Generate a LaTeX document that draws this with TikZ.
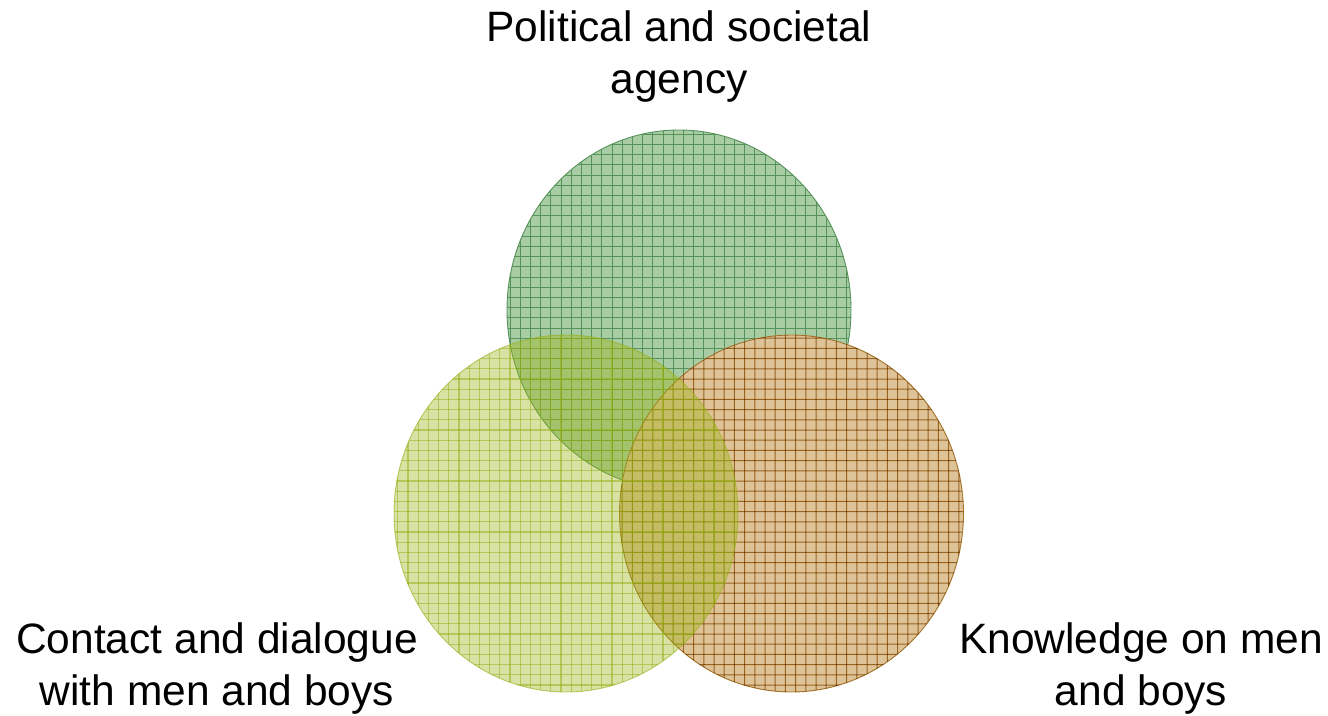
\documentclass[tikz,border=0pt]{standalone}
\usepackage{fontspec}
\setmainfont{Liberation Sans}
\definecolor{topfill}{HTML}{A8CCA4}
\definecolor{topline}{HTML}{55935A}
\definecolor{rightfill}{HTML}{DEC398}
\definecolor{rightline}{HTML}{B08336}
\definecolor{leftfill}{HTML}{9DB518}
\definecolor{leftline}{HTML}{94AE10}
\tikzset{
  lbl/.style={font=\fontsize{42.5}{51.7}\selectfont, align=center, inner sep=0pt, anchor=base},
}
\newcommand{\gridin}[1]{%
  \foreach \i [evaluate=\i as \gx using 397.8+10.2*\i] in {0,...,57} {\draw[#1] (\gx,120) -- (\gx,700);}
  \foreach \i [evaluate=\i as \gy using 124.0+10.2*\i] in {0,...,57} {\draw[#1] (380,\gy) -- (980,\gy);}
}
\begin{document}
\begin{tikzpicture}[x=1pt,y=-1pt]
\useasboundingbox (0,0) rectangle (1328,715);
\fill[white] (0,0) rectangle (1328,715);
% top circle
\begin{scope}
  \clip (679,310) ellipse [x radius=172, y radius=180];
  \fill[topfill] (679,310) ellipse [x radius=172, y radius=180];
  \gridin{topline, line width=1pt}
\end{scope}
\draw[topline, line width=0.9pt] (679,310) ellipse [x radius=172, y radius=180];
% right circle
\begin{scope}[blend group=multiply]
  \begin{scope}
    \clip (791.5,513.5) ellipse [x radius=172, y radius=178.5];
    \fill[rightfill] (791.5,513.5) ellipse [x radius=172, y radius=178.5];
    \gridin{rightline, line width=1pt}
  \end{scope}
  \draw[rightline, line width=0.9pt] (791.5,513.5) ellipse [x radius=172, y radius=178.5];
\end{scope}
% left circle
\begin{scope}
  \clip (566,513.5) ellipse [x radius=172, y radius=178.5];
  \fill[leftfill, opacity=0.39] (566,513.5) ellipse [x radius=172, y radius=178.5];
  \gridin{leftline, line width=1.1pt, opacity=0.5}
\end{scope}
\draw[leftline, opacity=0.6, line width=0.9pt] (566,513.5) ellipse [x radius=172, y radius=178.5];
% labels
\node[lbl] (ltop) at (679,93.4) {Political and societal\\agency};
\node[lbl] (lleft) at (217,705.5) {Contact and dialogue\\with men and boys};
\node[lbl] (lright) at (1141,705.5) {Knowledge on men\\and boys};
\end{tikzpicture}
\end{document}
